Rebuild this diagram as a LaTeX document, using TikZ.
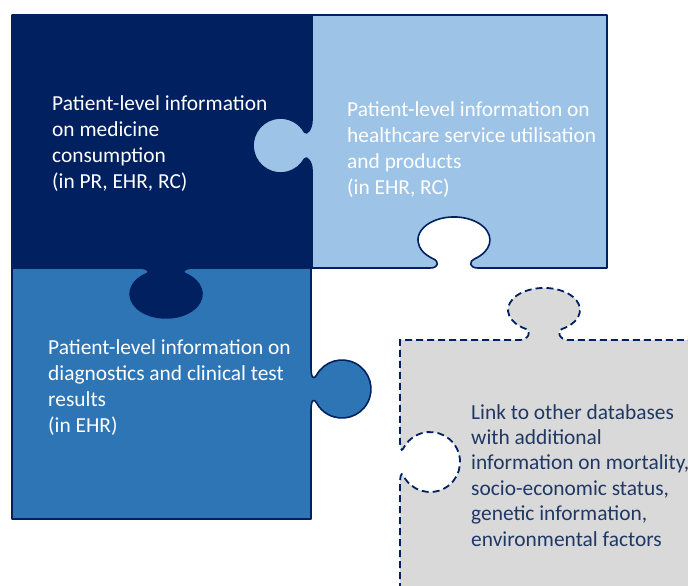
\documentclass[tikz,border=0pt]{standalone}
\usepackage{fontspec}
\setmainfont{Carlito}
\definecolor{navy}{HTML}{002060}
\definecolor{lblue}{HTML}{9DC3E6}
\definecolor{mblue}{HTML}{2E75B6}
\definecolor{lgrey}{HTML}{D9D9D9}
\definecolor{gtext}{HTML}{1F3864}
\begin{document}
\begin{tikzpicture}[x=1pt,y=-1pt,
  piece/.style={draw=navy, line width=1.6pt, line join=round},
  txt/.style={anchor=base west, inner sep=0pt, font=\fontsize{21.4}{26}\selectfont}]
\useasboundingbox (0,0) rectangle (688,586);
\clip (0,0) rectangle (688,586);

% grey piece (dashed)
\path[draw=navy, fill=lgrey, line width=1.8pt, dash pattern=on 7pt off 4pt]
  (400,700) -- (400,484) .. controls (400,478) and (400.7,470.7) .. (403.5,476)
  arc[start angle=152.2, end angle=-152.2, radius=30]
  .. controls (400.7,453.3) and (400,446) .. (400,440) -- (400,340) -- (520,340)
  .. controls (528,340) and (532.2,331.2) .. (526,329)
  arc[start angle=120, end angle=420, x radius=36, y radius=22]
  .. controls (555.8,331.2) and (560,340) .. (568,340) -- (800,340) -- (800,700) -- cycle;

% medium blue piece
\path[piece, fill=mblue] (12,268) -- (311,268) -- (311,368)
  .. controls (311,378) and (313.8,380.1) .. (316.6,375)
  arc[start angle=-151.1, end angle=151.1, radius=29]
  .. controls (313.8,397.9) and (311,400) .. (311,410) -- (311,519) -- (12,519) -- cycle;

% dark navy piece
\path[piece, fill=navy] (12,15) -- (312,15) -- (312,268) -- (192,268)
  .. controls (186,268) and (180.5,271.7) .. (185.1,273.6)
  arc[start angle=-58, end angle=238, x radius=36, y radius=24]
  .. controls (151.5,271.7) and (146,268) .. (140,268) -- (12,268) -- cycle;

% light blue piece
\path[piece, fill=lblue] (312,15) -- (607,15) -- (607,268) -- (478,268)
  .. controls (469,268) and (468.7,261.4) .. (474.6,258.8)
  arc[start angle=55, end angle=-235, x radius=36, y radius=23]
  .. controls (439.3,261.4) and (439,268) .. (430,268) -- (312,268) -- (312,170)
  .. controls (312,162) and (306.5,155.4) .. (304.5,159)
  arc[start angle=29.4, end angle=330.6, radius=27.5]
  .. controls (306.5,135.6) and (312,129) .. (312,120) -- cycle;

% texts
\node[txt, text=white] (t1) at (52,110.5) {\parbox[t]{300pt}{\raggedright Patient-level information\\ on medicine\\ consumption\\ (in PR, EHR, RC)}};
\node[txt, text=white] (t2) at (347,116.5) {\parbox[t]{300pt}{\raggedright Patient-level information on\\ healthcare service utilisation\\ and products\\ (in EHR, RC)}};
\node[txt, text=white] (t3) at (48,354) {\parbox[t]{300pt}{\raggedright Patient-level information on\\ diagnostics and clinical test\\ results\\ (in EHR)}};
\node[txt, text=gtext, font=\fontsize{21.4}{25.4}\selectfont] (t4) at (471,419) {\parbox[t]{300pt}{\raggedright Link to other databases\\ with additional\\ information on mortality,\\ socio-economic status,\\ genetic information,\\ environmental factors}};
\end{tikzpicture}
\end{document}
